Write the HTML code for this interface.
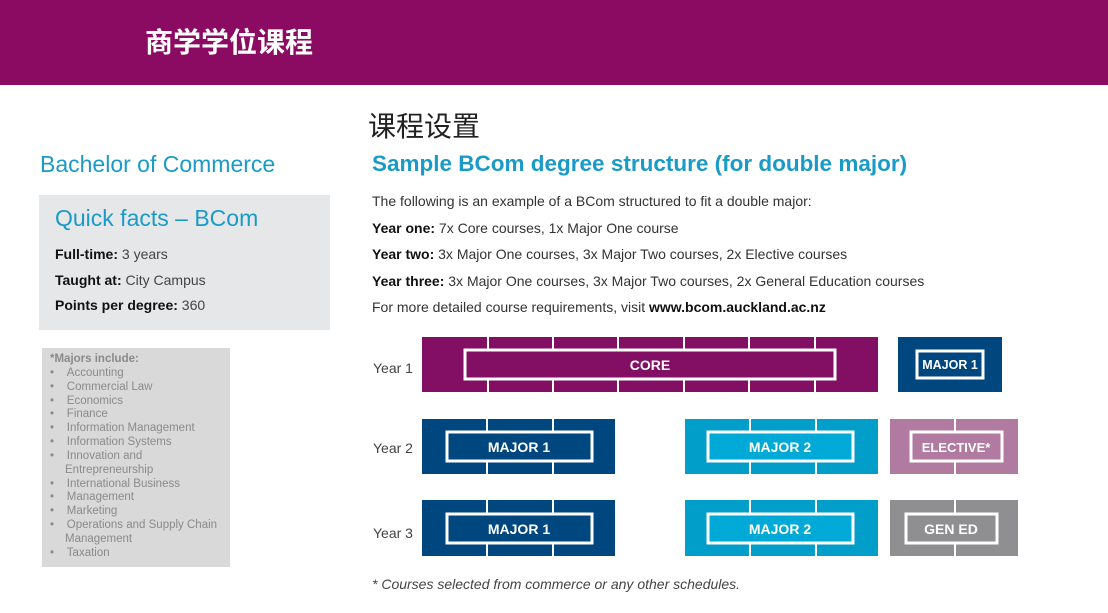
<!DOCTYPE html>
<html><head><meta charset="utf-8"><style>
body{margin:0;width:1108px;height:613px;background:#fff;position:relative;overflow:hidden;font-family:"Liberation Sans","Noto Sans CJK SC",sans-serif;color:#333}
.a{position:absolute;white-space:nowrap}
</style></head><body>
<div class="a" style="left:0;top:0;width:1108px;height:85px;background:#8b0a62"></div>
<div class="a" style="left:145px;top:21px;font-size:28px;font-weight:bold;color:#fff;font-family:'Noto Sans CJK SC',sans-serif">商学学位课程</div>
<div class="a" style="left:368px;top:105px;font-size:28px;color:#222;font-family:'Noto Sans CJK SC',sans-serif">课程设置</div>
<div class="a" style="left:40px;top:151px;font-size:23px;color:#1a9bc7">Bachelor of Commerce</div>
<div class="a" style="left:372px;top:151px;font-size:22.5px;color:#1a9bc7;font-weight:bold">Sample BCom degree structure (for double major)</div>
<div class="a" style="left:372px;top:188px;font-size:14px;line-height:26.5px;color:#333">
The following is an example of a BCom structured to fit a double major:<br>
<b style="color:#111">Year one:</b> 7x Core courses, 1x Major One course<br>
<b style="color:#111">Year two:</b> 3x Major One courses, 3x Major Two courses, 2x Elective courses<br>
<b style="color:#111">Year three:</b> 3x Major One courses, 3x Major Two courses, 2x General Education courses<br>
For more detailed course requirements, visit <b style="color:#111">www.bcom.auckland.ac.nz</b></div>
<div class="a" style="left:39px;top:195px;width:291px;height:135px;background:#e6e7e8"></div>
<div class="a" style="left:55px;top:205px;font-size:23px;color:#1a9bc7">Quick facts – BCom</div>
<div class="a" style="left:55px;top:242px;font-size:14px;line-height:25.5px;color:#444">
<b style="color:#111">Full-time:</b> 3 years<br><b style="color:#111">Taught at:</b> City Campus<br><b style="color:#111">Points per degree:</b> 360</div>
<div class="a" style="left:42px;top:348px;width:188px;height:219px;background:#d9d9d9"></div>
<div class="a" style="left:50px;top:353px;font-size:11.5px;line-height:13.85px;color:#8a8a8a">
<b>*Majors include:</b><br>
•&nbsp;&nbsp;&nbsp;&nbsp;Accounting<br>•&nbsp;&nbsp;&nbsp;&nbsp;Commercial Law<br>•&nbsp;&nbsp;&nbsp;&nbsp;Economics<br>•&nbsp;&nbsp;&nbsp;&nbsp;Finance<br>•&nbsp;&nbsp;&nbsp;&nbsp;Information Management<br>•&nbsp;&nbsp;&nbsp;&nbsp;Information Systems<br>•&nbsp;&nbsp;&nbsp;&nbsp;Innovation and<br><span style="padding-left:15px">Entrepreneurship</span><br>•&nbsp;&nbsp;&nbsp;&nbsp;International Business<br>•&nbsp;&nbsp;&nbsp;&nbsp;Management<br>•&nbsp;&nbsp;&nbsp;&nbsp;Marketing<br>•&nbsp;&nbsp;&nbsp;&nbsp;Operations and Supply Chain<br><span style="padding-left:15px">Management</span><br>•&nbsp;&nbsp;&nbsp;&nbsp;Taxation</div>
<div class="a" style="left:373px;top:360px;font-size:14px;color:#444">Year 1</div>
<div class="a" style="left:373px;top:440px;font-size:14px;color:#444">Year 2</div>
<div class="a" style="left:373px;top:525px;font-size:14px;color:#444">Year 3</div>
<div class="a" style="left:372px;top:576px;font-size:14px;font-style:italic;color:#444">* Courses selected from commerce or any other schedules.</div>
<svg class="a" style="left:0;top:0" width="1108" height="613" font-family="Liberation Sans" font-weight="bold" font-size="14" fill="#fff">
<g stroke="#fff" stroke-width="2">
<rect x="422" y="337" width="456" height="55" fill="#820f64" stroke="none"/>
<path d="M488 337V350M553 337V350M618 337V350M684 337V350M749 337V350M815 337V350M488 379V392M553 379V392M618 379V392M684 379V392M749 379V392M815 379V392"/>
<rect x="465" y="350" width="370" height="29" fill="#820f64" stroke-width="3"/>
<rect x="898" y="337" width="104" height="55" fill="#00467f" stroke="none"/>
<rect x="917" y="351" width="66" height="27" fill="#00467f" stroke-width="3"/>
<rect x="422" y="419" width="193" height="55" fill="#00467f" stroke="none"/>
<path d="M487 419V432M553 419V432M487 461V474M553 461V474"/>
<rect x="447" y="432" width="145" height="29" fill="#00467f" stroke-width="3"/>
<rect x="685" y="419" width="193" height="55" fill="#009ec8" stroke="none"/>
<path d="M750 419V432M816 419V432M750 461V474M816 461V474"/>
<rect x="708" y="432" width="145" height="29" fill="#00a9d6" stroke-width="3"/>
<rect x="890" y="419" width="128" height="55" fill="#b07aa1" stroke="none"/>
<path d="M955 419V432M955 461V474"/>
<rect x="911" y="432" width="91" height="29" fill="#b07aa1" stroke-width="3"/>
<rect x="422" y="500" width="193" height="56" fill="#00467f" stroke="none"/>
<path d="M487 500V514M553 500V514M487 543V556M553 543V556"/>
<rect x="447" y="514" width="145" height="29" fill="#00467f" stroke-width="3"/>
<rect x="685" y="500" width="193" height="56" fill="#009ec8" stroke="none"/>
<path d="M750 500V514M816 500V514M750 543V556M816 543V556"/>
<rect x="708" y="514" width="145" height="29" fill="#00a9d6" stroke-width="3"/>
<rect x="890" y="500" width="128" height="56" fill="#8f8f91" stroke="none"/>
<path d="M955 500V514M955 543V556"/>
<rect x="906" y="514" width="91" height="29" fill="#8f8f91" stroke-width="3"/>
</g>
<text x="650" y="370" text-anchor="middle">CORE</text>
<text x="950" y="369" text-anchor="middle" font-size="12.5">MAJOR 1</text>
<text x="519" y="452" text-anchor="middle">MAJOR 1</text>
<text x="780" y="452" text-anchor="middle">MAJOR 2</text>
<text x="956" y="452" text-anchor="middle" font-size="13">ELECTIVE*</text>
<text x="519" y="534" text-anchor="middle">MAJOR 1</text>
<text x="780" y="534" text-anchor="middle">MAJOR 2</text>
<text x="951" y="534" text-anchor="middle">GEN ED</text>
</svg>
</body></html>
